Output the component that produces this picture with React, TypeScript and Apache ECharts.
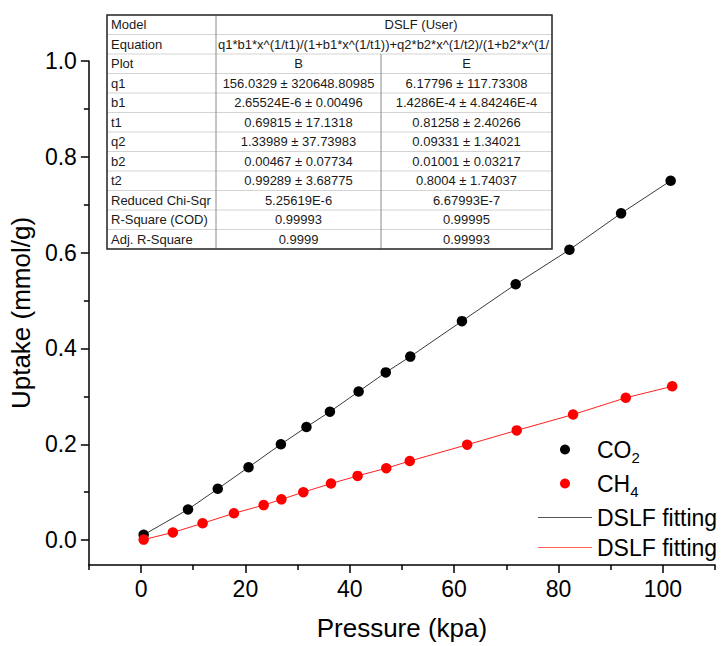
import React, { useEffect, useRef } from "react";
import * as echarts from "echarts";

// ---- data ----
const co2Pressure = [0.5, 9.0, 14.7, 20.6, 26.8, 31.7, 36.2, 41.7, 46.9, 51.6, 61.5, 71.8, 82.1, 92.0, 101.5];
const co2Uptake = [0.011, 0.064, 0.107, 0.152, 0.2, 0.236, 0.268, 0.31, 0.35, 0.383, 0.457, 0.534, 0.606, 0.682, 0.75];
const ch4Pressure = [0.5, 6.1, 11.8, 17.8, 23.5, 26.9, 31.1, 36.4, 41.5, 47.0, 51.5, 62.5, 72.0, 82.8, 92.9, 101.8];
const ch4Uptake = [0.001, 0.016, 0.035, 0.056, 0.073, 0.085, 0.1, 0.118, 0.134, 0.15, 0.165, 0.199, 0.229, 0.262, 0.297, 0.321];

const xLabelValues = [0, 20, 40, 60, 80, 100];
const xMinorValues = [-10, 10, 30, 50, 70, 90, 110];
const yLabelValues = [0, 0.2, 0.4, 0.6, 0.8, 1.0];
const yMinorValues = [0.1, 0.3, 0.5, 0.7, 0.9];

const tableRowLabels = ["Model", "Equation", "Plot", "q1", "b1", "t1", "q2", "b2", "t2", "Reduced Chi-Sqr", "R-Square (COD)", "Adj. R-Square"];
const tableModel = "DSLF (User)";
const tableEquation = "q1*b1*x^(1/t1)/(1+b1*x^(1/t1))+q2*b2*x^(1/t2)/(1+b2*x^(1/";
const tableColB = ["B", "156.0329 ± 320648.80985", "2.65524E-6 ± 0.00496", "0.69815 ± 17.1318", "1.33989 ± 37.73983", "0.00467 ± 0.07734", "0.99289 ± 3.68775", "5.25619E-6", "0.99993", "0.9999"];
const tableColE = ["E", "6.17796 ± 117.73308", "1.4286E-4 ± 4.84246E-4", "0.81258 ± 2.40266", "0.09331 ± 1.34021", "0.01001 ± 0.03217", "0.8004 ± 1.74037", "6.67993E-7", "0.99995", "0.99993"];

const FONT = 'Arial, "Liberation Sans", sans-serif';
const LINE_ICON = "path://M0 0H54V1H0Z";

function buildTable() {
  const left = 107, right = 552, top = 15, rowH = 19.5;
  const c1 = 216, c2 = 381;
  const n = tableRowLabels.length;
  const bottom = top + rowH * n;
  const els: any[] = [];
  els.push({ type: "rect", shape: { x: left, y: top, width: right - left, height: bottom - top }, style: { fill: "#fff", stroke: "none" } });
  for (let i = 1; i < n; i++) {
    const y = top + rowH * i;
    els.push({ type: "line", shape: { x1: left, y1: y, x2: right, y2: y }, style: { stroke: "#d4d4d4", lineWidth: 1 } });
  }
  els.push({ type: "line", shape: { x1: c1, y1: top, x2: c1, y2: bottom }, style: { stroke: "#8a8a8a", lineWidth: 1 } });
  els.push({ type: "line", shape: { x1: c2, y1: top + rowH * 2, x2: c2, y2: bottom }, style: { stroke: "#8a8a8a", lineWidth: 1 } });
  els.push({ type: "rect", shape: { x: left, y: top, width: right - left, height: bottom - top }, style: { fill: "none", stroke: "#222", lineWidth: 1.5 } });
  const txt = (text: string, x: number, y: number, align: string) => ({
    type: "text",
    x,
    y,
    style: { text, fill: "#1a1a1a", font: `13px ${FONT}`, align, verticalAlign: "middle", textAlign: align, textVerticalAlign: "middle" },
  });
  tableRowLabels.forEach((l, i) => els.push(txt(l, left + 4, top + rowH * (i + 0.5), "left")));
  els.push(txt(tableModel, 421, top + rowH * 0.5, "center"));
  els.push(txt(tableEquation, c1 + 2, top + rowH * 1.5, "left"));
  tableColB.forEach((v, i) => els.push(txt(v, (c1 + c2) / 2, top + rowH * (i + 2.5), "center")));
  tableColE.forEach((v, i) => els.push(txt(v, (c2 + right) / 2, top + rowH * (i + 2.5), "center")));
  return { type: "group", z: 100, children: els };
}

export default function App() {
  const ref = useRef<HTMLDivElement>(null);
  useEffect(() => {
    document.body.style.margin = "0";
    if (!ref.current) return;
    const chart = echarts.init(ref.current, null, { renderer: "svg" });
    const axisLineStyle = { color: "#000", width: 1.5 };
    const option: any = {
      animation: false,
      backgroundColor: "#fff",
      textStyle: { fontFamily: FONT },
      grid: { left: 87, right: 10, top: 61, bottom: 79, containLabel: false },
      xAxis: [
        {
          type: "value",
          min: -10,
          max: 110,
          name: "Pressure (kpa)",
          nameLocation: "middle",
          nameGap: 50,
          nameTextStyle: { fontSize: 26, color: "#000", fontFamily: FONT },
          axisLine: { show: true, onZero: false, lineStyle: axisLineStyle },
          axisTick: { show: true, inside: false, length: 8, customValues: xLabelValues, lineStyle: axisLineStyle },
          axisLabel: { show: true, customValues: xLabelValues, fontSize: 23, color: "#000", margin: 12, fontFamily: FONT },
          splitLine: { show: false },
        },
        {
          type: "value",
          min: -10,
          max: 110,
          position: "bottom",
          axisLine: { show: false, onZero: false },
          axisTick: { show: true, inside: false, length: 5, customValues: xMinorValues, lineStyle: axisLineStyle },
          axisLabel: { show: false },
          splitLine: { show: false },
        },
      ],
      yAxis: [
        {
          type: "value",
          min: -0.052,
          max: 1.0,
          name: "Uptake (mmol/g)",
          nameLocation: "middle",
          nameGap: 50,
          nameTextStyle: { fontSize: 26, color: "#000", fontFamily: FONT },
          axisLine: { show: true, onZero: false, lineStyle: axisLineStyle },
          axisTick: { show: true, inside: false, length: 8, customValues: yLabelValues, lineStyle: axisLineStyle },
          axisLabel: { show: true, customValues: yLabelValues, fontSize: 23, color: "#000", margin: 12, fontFamily: FONT, formatter: (v: number) => v.toFixed(1) },
          splitLine: { show: false },
        },
        {
          type: "value",
          min: -0.052,
          max: 1.0,
          position: "left",
          axisLine: { show: false, onZero: false },
          axisTick: { show: true, inside: false, length: 5, customValues: yMinorValues, lineStyle: axisLineStyle },
          axisLabel: { show: false },
          splitLine: { show: false },
        },
      ],
      legend: {
        orient: "vertical",
        left: 538,
        top: 438,
        padding: 0,
        itemGap: 7,
        itemWidth: 54,
        itemHeight: 10,
        data: [
          { name: "CO2" },
          { name: "CH4" },
          { name: "CO2 DSLF fitting", icon: LINE_ICON },
          { name: "CH4 DSLF fitting", icon: LINE_ICON },
        ],
        formatter: (name: string) => {
          if (name === "CO2") return "{m|CO}{s|2}";
          if (name === "CH4") return "{m|CH}{s|4}";
          return "{f|DSLF fitting}";
        },
        textStyle: {
          color: "#000",
          rich: {
            m: { fontSize: 23, lineHeight: 31, color: "#000", fontFamily: FONT },
            s: { fontSize: 15, lineHeight: 16, verticalAlign: "bottom", color: "#000", fontFamily: FONT },
            f: { fontSize: 23, lineHeight: 25, color: "#000", fontFamily: FONT },
          },
        },
      },
      series: [
        {
          name: "CO2 DSLF fitting",
          type: "line",
          data: co2Pressure.map((p, i) => [p, co2Uptake[i]]),
          symbol: "none",
          lineStyle: { color: "#3a3a3a", width: 1 },
          itemStyle: { color: "#555", opacity: 1 },
          z: 2,
        },
        {
          name: "CH4 DSLF fitting",
          type: "line",
          data: ch4Pressure.map((p, i) => [p, ch4Uptake[i]]),
          symbol: "none",
          lineStyle: { color: "#ff2020", width: 1 },
          itemStyle: { color: "#ff6060", opacity: 1 },
          z: 2,
        },
        {
          name: "CO2",
          type: "scatter",
          data: co2Pressure.map((p, i) => [p, co2Uptake[i]]),
          symbol: "circle",
          symbolSize: 10.5,
          itemStyle: { color: "#000", opacity: 1 },
          z: 3,
        },
        {
          name: "CH4",
          type: "scatter",
          data: ch4Pressure.map((p, i) => [p, ch4Uptake[i]]),
          symbol: "circle",
          symbolSize: 10.5,
          itemStyle: { color: "#ff0000", opacity: 1 },
          z: 3,
        },
      ],
      graphic: [buildTable()],
    };
    chart.setOption(option);
    return () => chart.dispose();
  }, []);
  return <div ref={ref} style={{ width: 725, height: 646 }} />;
}
